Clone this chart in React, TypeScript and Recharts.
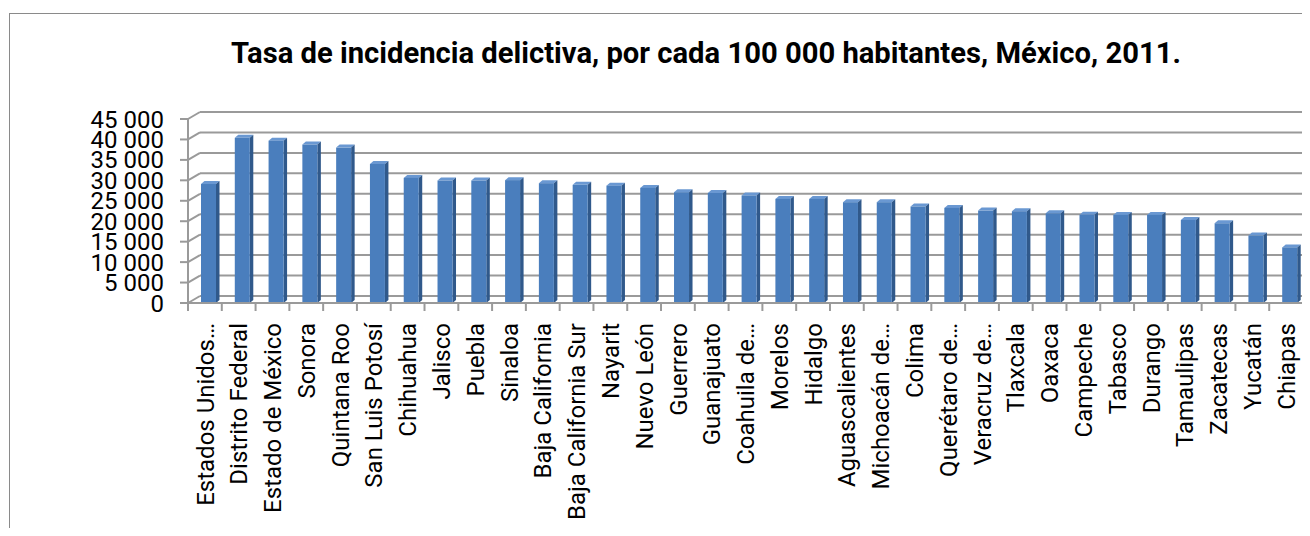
import React from 'react';
import { BarChart, Bar, XAxis, YAxis, CartesianGrid } from 'recharts';

const states = [
  'Estados Unidos…', 'Distrito Federal', 'Estado de México', 'Sonora', 'Quintana Roo',
  'San Luis Potosí', 'Chihuahua', 'Jalisco', 'Puebla', 'Sinaloa', 'Baja California',
  'Baja California Sur', 'Nayarit', 'Nuevo León', 'Guerrero', 'Guanajuato', 'Coahuila de…',
  'Morelos', 'Hidalgo', 'Aguascalientes', 'Michoacán de…', 'Colima', 'Querétaro de…',
  'Veracruz de…', 'Tlaxcala', 'Oaxaca', 'Campeche', 'Tabasco', 'Durango', 'Tamaulipas',
  'Zacatecas', 'Yucatán', 'Chiapas',
];

const rates = [
  29100, 40400, 39700, 38750, 38000, 34000, 30600, 29950, 29950, 30050, 29300,
  28900, 28700, 28150, 27100, 26900, 26300, 25450, 25450, 24650, 24650, 23600,
  23250, 22600, 22450, 21950, 21600, 21550, 21550, 20300, 19500, 16500, 13600,
];

const yTicks = [0, 5000, 10000, 15000, 20000, 25000, 30000, 35000, 40000, 45000];

const data = states.map((name, i) => ({ name, value: rates[i] }));

const W = 1302;
const H = 528;
const PLOT_LEFT = 180;
const PLOT_RIGHT = 1295;
const PLOT_BOTTOM = 295;
const BAND = (PLOT_RIGHT - PLOT_LEFT) / states.length;
const DX = 12;
const DY = 7;
const GRID = '#9a9a9a';
const FONT = 'Roboto, "Open Sans", sans-serif';

const fmt = (v: number) => (v >= 1000 ? `${Math.floor(v / 1000)} ${String(v % 1000).padStart(3, '0')}` : String(v));

function GridLine(props: any) {
  const { x1, x2, y1, index } = props;
  const isFloor = Math.abs(y1 - PLOT_BOTTOM) < 1;
  return (
    <g key={`g-${index}`}>
      <line x1={x1 + DX} y1={y1 - DY} x2={x2 + DX + 20} y2={y1 - DY} stroke={GRID} strokeWidth={2} />
      <line x1={x1} y1={y1} x2={x1 + DX} y2={y1 - DY} stroke={GRID} strokeWidth={2} />
      {isFloor && <line x1={x2} y1={y1} x2={x2 + DX} y2={y1 - DY} stroke={GRID} strokeWidth={2} />}
    </g>
  );
}

function Bar3D(props: any) {
  const { x, y, width, height } = props;
  if (height == null || height <= 0) return null;
  const fx = x + 4;
  const d = 3.5;
  const t = 3;
  return (
    <g>
      <polygon
        points={`${fx},${y} ${fx + d},${y - t} ${fx + width + d},${y - t} ${fx + width},${y}`}
        fill="#6a98d2"
      />
      <polygon
        points={`${fx + width},${y} ${fx + width + d},${y - t} ${fx + width + d},${y + height - t} ${fx + width},${y + height}`}
        fill="#30598b"
      />
      <rect x={fx} y={y} width={width} height={height} fill="#4a7ebd" />
    </g>
  );
}

function CategoryTick(props: any) {
  const { x, y, payload, index } = props;
  const half = BAND / 2;
  return (
    <g>
      <line x1={x - half} y1={y} x2={x - half} y2={y + 8} stroke={GRID} strokeWidth={2} />
      {index === states.length - 1 && (
        <line x1={x + half} y1={y} x2={x + half} y2={y + 8} stroke={GRID} strokeWidth={2} />
      )}
      <text
        x={x}
        y={y + 20}
        transform={`rotate(-90 ${x} ${y + 20})`}
        textAnchor="end"
        dy="0.36em"
        fontSize={24}
        fontFamily={FONT}
        fill="#000"
      >
        {payload.value}
      </text>
    </g>
  );
}

export default function App() {
  return (
    <div
      style={{
        position: 'relative',
        width: W,
        height: H,
        marginBottom: -8,
        overflow: 'hidden',
        background: '#fff',
      }}
    >
      <div
        style={{
          position: 'absolute',
          left: 1,
          top: 5,
          width: 1400,
          height: 700,
          border: '1px solid #8a8a8a',
          boxSizing: 'border-box',
        }}
      />
      <div
        style={{
          position: 'absolute',
          left: 98,
          top: 31,
          width: 1200,
          textAlign: 'center',
          fontFamily: FONT,
          fontWeight: 700,
          fontSize: 29.2,
          lineHeight: 1,
          color: '#000',
        }}
      >
        Tasa de incidencia delictiva, por cada 100 000 habitantes, México, 2011.
      </div>
      <BarChart
        width={W}
        height={H}
        data={data}
        margin={{ top: 111, right: W - PLOT_RIGHT, bottom: H - PLOT_BOTTOM - 200, left: 0 }}
        barSize={15}
        style={{ position: 'absolute', left: 0, top: 0 }}
      >
        <CartesianGrid vertical={false} horizontal={(p: any) => <GridLine {...p} />} />
        <XAxis
          dataKey="name"
          interval={0}
          height={200}
          tickSize={0}
          tickMargin={0}
          tickLine={false}
          axisLine={{ stroke: GRID, strokeWidth: 2 }}
          tick={<CategoryTick />}
        />
        <YAxis
          width={PLOT_LEFT}
          domain={[0, 45000]}
          ticks={yTicks}
          interval={0}
          tickFormatter={fmt}
          tickSize={8}
          tickMargin={16}
          axisLine={{ stroke: GRID, strokeWidth: 2 }}
          tickLine={{ stroke: GRID, strokeWidth: 2 }}
          tick={{ fontSize: 24, fontFamily: FONT, fill: '#000' }}
        />
        <Bar dataKey="value" shape={<Bar3D />} isAnimationActive={false} />
      </BarChart>
    </div>
  );
}
